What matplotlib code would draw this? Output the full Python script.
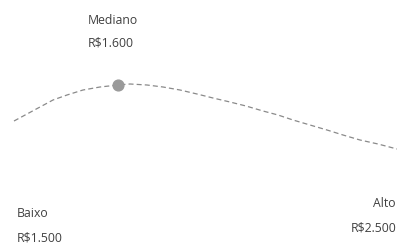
import matplotlib
matplotlib.use("Agg")
import matplotlib.pyplot as plt

# curva (x, y em pixels)
curve_x = [14, 27, 40, 53, 67, 83, 100, 118, 130, 147, 163, 180, 197, 213, 230,
           246, 263, 278, 293, 310, 327, 343, 360, 378, 397]
curve_y = [121, 114, 107, 100, 95, 90, 87, 85, 84, 85, 87, 90, 94, 98, 102,
           106, 111, 115, 120, 125, 130, 135, 140, 144, 149]

point_x = [118]
point_y = [85]

labels = ["Mediano", "Baixo", "Alto"]
values = ["R$1.600", "R$1.500", "R$2.500"]

fig = plt.figure(figsize=(3.97, 2.47), dpi=100)
ax = fig.add_axes([0, 0, 1, 1])
ax.set_xlim(0, 397)
ax.set_ylim(247, 0)
ax.axis("off")

ax.plot(curve_x, curve_y, ls=(0, (4, 2.5)), lw=0.9, c="#8a8a8a")
ax.scatter(point_x, point_y, s=60, c="#9a9a9a", zorder=3)

font = dict(family=["Open Sans", "DejaVu Sans"], fontsize=8.8, color="#404040")
ax.text(88, 20, labels[0], va="center", ha="left", **font)
ax.text(88, 43, values[0], va="center", ha="left", **font)
ax.text(17, 213, labels[1], va="center", ha="left", **font)
ax.text(17, 238, values[1], va="center", ha="left", **font)
ax.text(396, 203, labels[2], va="center", ha="right", **font)
ax.text(396, 228, values[2], va="center", ha="right", **font)

fig.savefig("out.png", dpi=100)
